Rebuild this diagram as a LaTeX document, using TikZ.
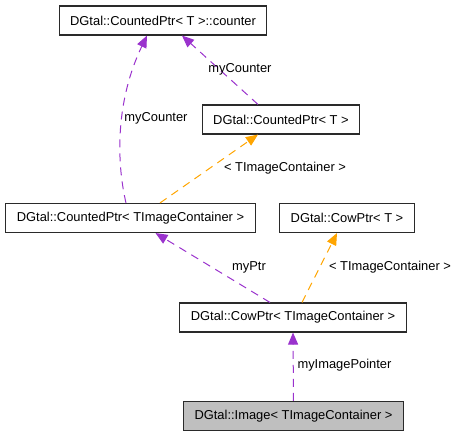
\documentclass[tikz,border=0pt]{standalone}
\usepackage{fontspec}
\setmainfont{Liberation Sans}
\usepackage{xcolor}
\usetikzlibrary{positioning,calc,arrows.meta}
\definecolor{DOXpurple}{HTML}{9A32CD}
\definecolor{DOXorange}{HTML}{FFA500}
\definecolor{DOXgray}{HTML}{BFBFBF}
\definecolor{DOXedge}{HTML}{2A2A2A}

\begin{document}
\begin{tikzpicture}[x=1pt, y=-1pt,
  every node/.style={font=\fontsize{12.9}{15}\selectfont, text=black},
  cls/.style ={draw=DOXedge, fill=white, line width=1.1pt, inner xsep=11pt,
               minimum height=29pt, align=center},
  lbl/.style ={inner sep=0pt},
  uses/.style={-{Triangle[length=12pt,width=10pt]}, draw=DOXpurple, line width=1pt,
               dash pattern=on 8pt off 6pt},
  tmpl/.style={-{Triangle[length=12pt,width=10pt]}, draw=DOXorange, line width=1pt,
               dash pattern=on 8pt off 6pt}]
\useasboundingbox (0,0) rectangle (459,437);
% classes
\node[cls] (counter)   at (163,20.5)  {DGtal::CountedPtr< T >::counter};
\node[cls] (countedT)  at (281,119.5) {DGtal::CountedPtr< T >};
\node[cls] (countedti) at (130.5,218) {DGtal::CountedPtr< TImageContainer >};
\node[cls] (cowT)      at (347,218)   {DGtal::CowPtr< T >};
\node[cls] (cowti)     at (293,317.5) {DGtal::CowPtr< TImageContainer >};
\node[cls, fill=DOXgray] (img) at (293.5,416) {DGtal::Image< TImageContainer >};
% edges
\draw[uses] ([xshift=-4.5pt]countedti.north) .. controls (116,160) and (116,100) .. ([xshift=-16pt]counter.south);
\draw[uses] ([xshift=-23pt]countedT.north) -- ([xshift=19pt]counter.south);
\draw[tmpl] ([xshift=29.5pt]countedti.north) -- ([xshift=-23pt]countedT.south);
\draw[uses] ([xshift=-23pt]cowti.north) -- ([xshift=25pt]countedti.south);
\draw[tmpl] ([xshift=9pt]cowti.north) -- ([xshift=-10pt]cowT.south);
\draw[uses] (img.north) -- (cowti.south);
% labels
\node[lbl] (lcnt1) at (156,118)  {myCounter};
\node[lbl] (lcnt2) at (240,69)   {myCounter};
\node[lbl] (ltpl1) at (285,168)  {< TImageContainer >};
\node[lbl] (lptr)  at (249,267)  {myPtr};
\node[lbl] (ltpl2) at (390,267)  {< TImageContainer >};
\node[lbl] (limg)  at (344.5,365) {myImagePointer};
\end{tikzpicture}
\end{document}
